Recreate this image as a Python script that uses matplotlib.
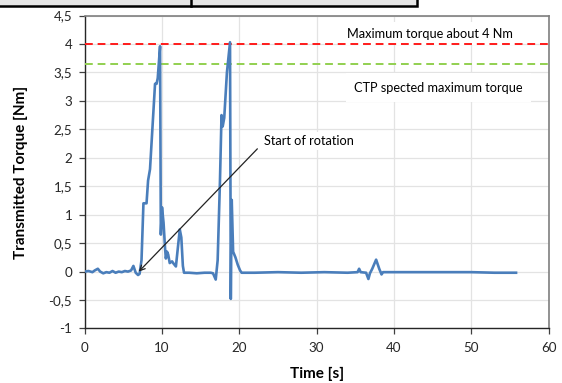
import matplotlib
matplotlib.use("Agg")
import matplotlib.pyplot as plt
from matplotlib.patches import Rectangle
from matplotlib.lines import Line2D
from matplotlib.ticker import FuncFormatter

plt.rcParams['font.family'] = ['Lato', 'DejaVu Sans']

# torque trace
time_s = [0, 0.5, 1.0, 1.3, 1.7, 2.0, 2.4, 2.8, 3.2, 3.6, 4.0, 4.4, 4.8, 5.2, 5.6, 6.0,
          6.3, 6.6, 6.9, 7.1, 7.35, 7.6, 8.0, 8.2, 8.45, 8.97, 9.1, 9.3, 9.45, 9.75,
          9.85, 10.0, 10.2, 10.4, 10.5, 10.65, 10.8, 11.0, 11.3, 11.5, 11.8, 12.0,
          12.3, 12.5, 12.7, 12.85, 13.5, 14.5, 15.5, 16.3, 16.6, 16.95, 17.2, 17.5,
          17.7, 17.85, 18.05, 18.4, 18.8, 18.9, 19.02, 19.2, 19.5, 19.8, 20.1, 20.3,
          22, 25, 28, 31, 34, 35.3, 35.5, 35.7, 36.4, 36.7, 36.9, 37.2, 37.7, 38.1,
          38.4, 38.6, 42, 46, 50, 53, 55.8]
torque_nm = [0.0, 0.01, -0.01, 0.02, 0.05, 0.0, -0.03, -0.01, -0.02, 0.01, -0.02, 0.0,
             -0.01, 0.01, 0.0, 0.02, 0.1, -0.02, -0.06, -0.04, 0.2, 1.2, 1.2, 1.6, 1.8,
             3.0, 3.3, 3.3, 3.4, 3.96, 0.65, 1.13, 0.86, 0.4, 0.23, 0.35, 0.3, 0.15,
             0.18, 0.14, 0.09, 0.35, 0.74, 0.6, 0.1, -0.02, -0.02, -0.03, -0.02, -0.02,
             -0.03, -0.14, 0.2, 1.6, 2.75, 2.55, 2.7, 3.5, 4.03, -0.48, 1.26, 0.35,
             0.25, 0.12, 0.02, -0.02, -0.02, -0.01, -0.02, -0.01, -0.02, -0.01, 0.05,
             -0.01, -0.02, -0.13, -0.03, 0.05, 0.21, 0.05, -0.05, -0.01, -0.01, -0.01,
             -0.01, -0.02, -0.02]

max_torque = 4.0
ctp_torque = 3.65
x_ticks = [0, 10, 20, 30, 40, 50, 60]
y_ticks = [-1, -0.5, 0, 0.5, 1, 1.5, 2, 2.5, 3, 3.5, 4, 4.5]

fig = plt.figure(figsize=(5.62, 3.83), dpi=100)
ax = fig.add_axes([0.1507, 0.1423, 0.8253, 0.8172])

ax.grid(True, color='#e3e3e3', lw=0.9, zorder=0)
ax.set_axisbelow(True)

ax.axhline(max_torque, color='#ff1a1a', lw=1.4, ls=(0, (4, 2.5)), zorder=3)
ax.axhline(ctp_torque, color='#92d050', lw=1.4, ls=(0, (4, 2.5)), zorder=3)
ax.plot(time_s, torque_nm, color='#4a7ebb', lw=1.9, zorder=4)

ax.text(44.7, 4.18, 'Maximum torque about 4 Nm', fontsize=9.2, ha='center', va='center',
        bbox=dict(fc='white', ec='none', pad=4), zorder=2)
ax.text(45.8, 3.23, 'CTP spected maximum torque', fontsize=9.2, ha='center', va='center',
        bbox=dict(fc='white', ec='none', pad=6), zorder=2)
ax.annotate('Start of rotation', xy=(7.0, 0.0), xytext=(23.2, 2.3), fontsize=9.2,
            ha='left', va='center', zorder=5,
            bbox=dict(fc='white', ec='none', pad=2),
            arrowprops=dict(arrowstyle='->', color='#222222', lw=0.9,
                            shrinkA=4, shrinkB=0, relpos=(0, 0.4)))

ax.set_xlim(0, 60)
ax.set_ylim(-1, 4.5)
ax.set_xticks(x_ticks)
ax.set_yticks(y_ticks)
ax.yaxis.set_major_formatter(FuncFormatter(lambda v, p: f'{v:g}'.replace('.', ',')))
ax.tick_params(labelsize=9.6, length=4, width=0.9, color='#404040', labelcolor='#262626')
ax.tick_params(axis='x', pad=6)
ax.tick_params(axis='y', pad=5)

for s in ['left', 'bottom']:
    ax.spines[s].set_color('#262626')
    ax.spines[s].set_linewidth(1.0)
for s in ['top', 'right']:
    ax.spines[s].set_color('#7f7f7f')
    ax.spines[s].set_linewidth(1.2)

ax.set_xlabel('Time [s]', fontsize=11, fontweight='bold', labelpad=9)
ax.set_ylabel('Transmitted Torque [Nm]', fontsize=11, fontweight='bold', labelpad=15)

# leftover of the table border above the chart
fig.add_artist(Rectangle((-0.01, 1 - 5.5 / 383), 417 / 562 + 0.01, 0.05,
                         transform=fig.transFigure, fc='#e6e6e6', ec='black', lw=1.8))
fig.add_artist(Line2D([191 / 562, 191 / 562], [1 - 5.5 / 383, 1.0],
                      transform=fig.transFigure, color='black', lw=1.8))

fig.savefig('out.png', dpi=100)
